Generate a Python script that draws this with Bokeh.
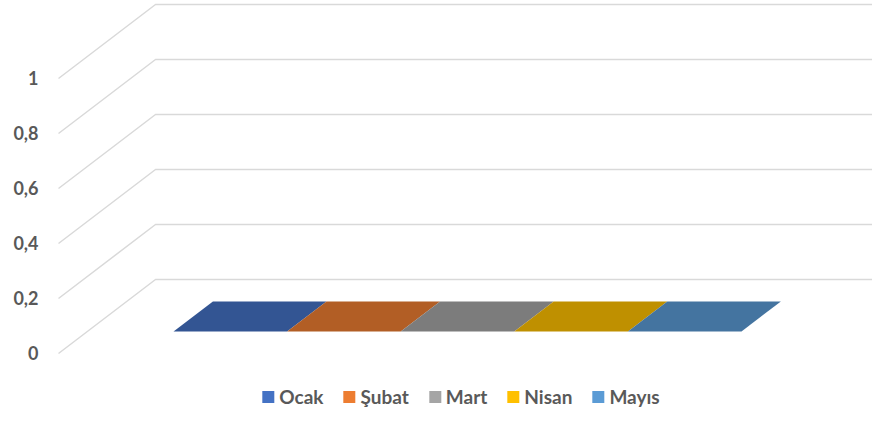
from bokeh.plotting import figure
from bokeh.models import Range1d, LinearAxis, FixedTicker, Legend, LegendItem
from bokeh.embed import file_html
from bokeh.resources import INLINE

# ---- data ----
SERIES = ["Ocak", "Şubat", "Mart", "Nisan", "Mayıs"]
VALUES = [0, 0, 0, 0, 0]
TICKS = [0.0, 0.2, 0.4, 0.6, 0.8, 1.0]
TICK_LABELS = ["0", "0,2", "0,4", "0,6", "0,8", "1"]
LEGEND_COLORS = ["#4472C4", "#ED7D31", "#A5A5A5", "#FFC000", "#5B9BD5"]
TOP_COLORS = ["#335593", "#B25E25", "#7C7C7C", "#BF9000", "#4474A0"]

# ---- 3D projection constants (style / layout) ----
DX = 0.854          # depth shift along x (category units)
DY = 74 / 275       # depth shift along y (value units)
Z0, Z1 = 0.297, 0.703  # bar depth extent (0 = front wall, 1 = back wall)
X_LEFT, X_RIGHT = -0.759, 5.76

TEXT_COLOR = "#595959"
FONT = "Lato"

p = figure(width=872, height=408,
           x_range=Range1d(-0.847, 6.407), y_range=Range1d(-0.2, 1.2836),
           output_backend="svg", toolbar_location=None,
           x_axis_type=None, y_axis_type=None,
           min_border_left=48, min_border_right=0, min_border_top=0, min_border_bottom=0)
p.outline_line_color = None
p.background_fill_color = "white"

# gridlines: front-left diagonal + back wall horizontal
gx, gy = [], []
for v in TICKS:
    gx.append([X_LEFT, X_LEFT + DX, X_RIGHT + DX])
    gy.append([v, v + DY, v + DY])
p.multi_line(xs=gx, ys=gy, line_color="#D9D9D9", line_width=1.5)

# bars (front face + top face)
fx, fy, tx, ty = [], [], [], []
for i, v in enumerate(VALUES):
    a, b = i + Z0 * DX, i + 1 + Z0 * DX
    fx.append([a, b, b, a]); fy.append([Z0 * DY, Z0 * DY, v + Z0 * DY, v + Z0 * DY])
    tx.append([a, b, i + 1 + Z1 * DX, i + Z1 * DX])
    ty.append([v + Z0 * DY, v + Z0 * DY, v + Z1 * DY, v + Z1 * DY])
front = p.patches(xs=fx, ys=fy, fill_color=LEGEND_COLORS, line_color=None)
p.patches(xs=tx, ys=ty, fill_color=TOP_COLORS, line_color=None)

# value axis
yaxis = LinearAxis(ticker=FixedTicker(ticks=TICKS),
                   major_label_overrides=dict(zip(TICKS, TICK_LABELS)))
yaxis.axis_line_color = None
yaxis.major_tick_line_color = None
yaxis.minor_tick_line_color = None
yaxis.major_tick_out = 0
yaxis.major_label_standoff = 10
yaxis.major_label_text_font = FONT
yaxis.major_label_text_font_style = "bold"
yaxis.major_label_text_font_size = "18px"
yaxis.major_label_text_color = TEXT_COLOR
p.add_layout(yaxis, "left")

# legend
items = [LegendItem(label=name, renderers=[front], index=i) for i, name in enumerate(SERIES)]
legend = Legend(items=items, orientation="horizontal", location="bottom_center",
                glyph_width=15, glyph_height=15, label_standoff=4, spacing=18,
                padding=0, margin=0, border_line_color=None, background_fill_alpha=0,
                label_text_font=FONT, label_text_font_style="bold",
                label_text_font_size="19px", label_text_color=TEXT_COLOR)
p.add_layout(legend)

open("out.html", "w").write(file_html(p, INLINE))
